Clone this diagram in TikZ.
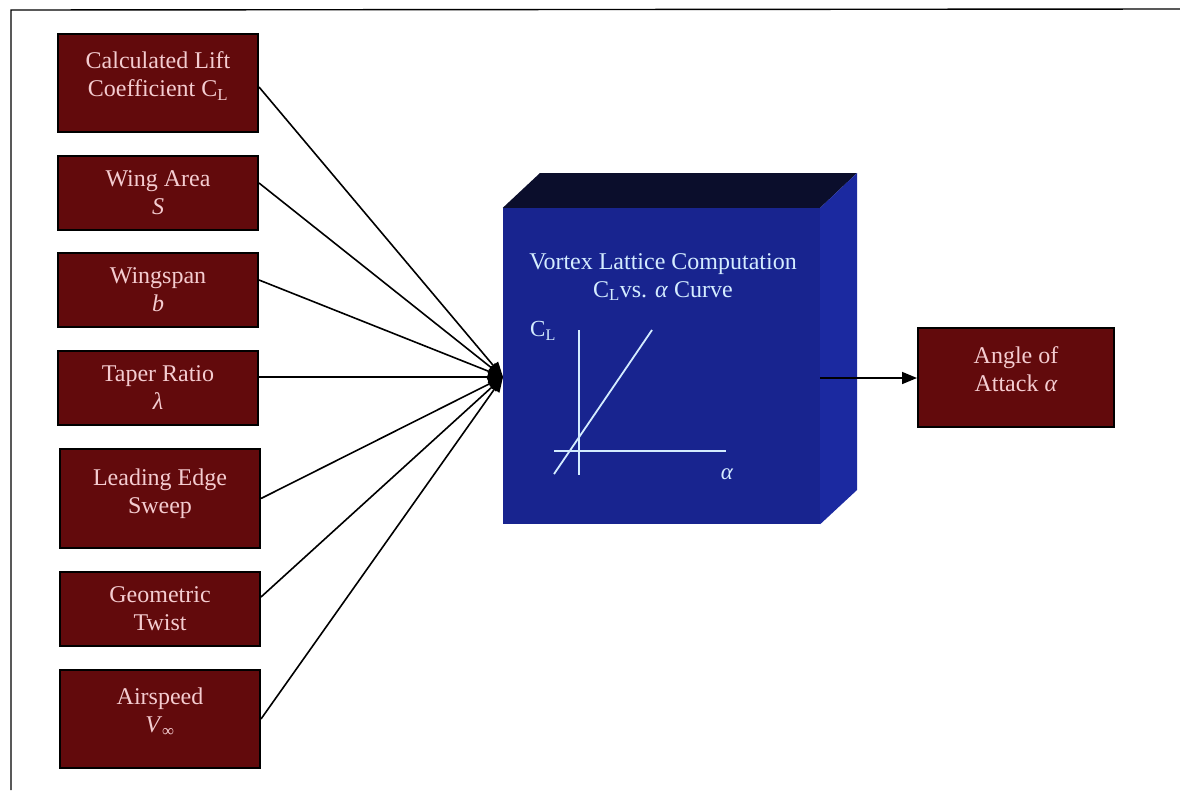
\documentclass[tikz,border=0pt]{standalone}
\usepackage{fontspec}
\setmainfont{Liberation Serif}
\usetikzlibrary{arrows.meta}
\definecolor{boxred}{HTML}{620A0C}
\definecolor{boxtext}{HTML}{F4CCD0}
\definecolor{frontblue}{HTML}{18248F}
\definecolor{sideblue}{HTML}{1B29A0}
\definecolor{topblue}{HTML}{0B0E2C}
\definecolor{cubetext}{HTML}{D4ECFF}
\newcommand{\upl}[2]{\raisebox{#1}[\height][\depth]{\begin{tabular}{@{}c@{}}#2\end{tabular}}}
\begin{document}
\begin{tikzpicture}[x=1pt,y=-1pt,
  inbox/.style={draw=black, line width=2pt, fill=boxred, text=boxtext,
    minimum width=200pt, align=center, inner sep=0pt,
    font=\fontsize{24}{28}\selectfont},
  link/.style={line width=1.6pt, -{Triangle[length=15pt,width=12pt]}},
  face/.style={draw=none}]
\useasboundingbox (0,0) rectangle (1180,790);
% frame
\coordinate (f0) at (11,790);
\coordinate (f1) at (11,10);
\coordinate (f2) at (1180,9);
\draw[line width=1.4pt] (f0) -- (f1) -- (f2);
% input boxes
\node[inbox, minimum height=98pt] (b1) at (158,83) {\upl{6pt}{Calculated Lift\\Coefficient C\textsubscript{L}}};
\node[inbox, minimum height=74pt] (b2) at (158,193) {Wing Area\\\textit{S}};
\node[inbox, minimum height=74pt] (b3) at (158,290) {Wingspan\\\textit{b}};
\node[inbox, minimum height=74pt] (b4) at (158,388) {Taper Ratio\\\textit{λ}};
\node[inbox, minimum height=99pt] (b5) at (160,498.5) {\upl{5pt}{Leading Edge\\Sweep}};
\node[inbox, minimum height=74pt] (b6) at (160,609) {Geometric\\Twist};
\node[inbox, minimum height=98pt] (b7) at (160,719) {\upl{6pt}{Airspeed\\\textit{V}\textsubscript{∞}}};
\node[inbox, minimum width=196pt, minimum height=99pt] (out) at (1016,377.5) {\upl{6pt}{Angle of\\Attack \textit{α}}};
% cube
\node[face, fill=frontblue, minimum width=317pt, minimum height=316pt, inner sep=0pt] (cube) at (661.5,366) {};
\coordinate (tbl) at (540,173);
\coordinate (tbr) at (857,173);
\coordinate (sbr) at (857,490);
\fill[topblue] (cube.north west) -- (tbl) -- (tbr) -- (cube.north east) -- cycle;
\fill[sideblue] (cube.north east) -- (tbr) -- (sbr) -- (cube.south east) -- cycle;
\node[text=cubetext, align=center, font=\fontsize{24}{28}\selectfont] (title) at (663,277)
  {Vortex Lattice Computation\\C\textsubscript{L}vs. \textit{α} Curve};
% small graph
\node[text=cubetext, font=\fontsize{23}{26}\selectfont] (cl) at (543,331) {C\textsubscript{L}};
\node[text=cubetext, font=\fontsize{23}{26}\selectfont] (al) at (727,474) {\textit{α}};
\coordinate (va) at (579,330);
\coordinate (vb) at (579,475);
\coordinate (ha) at (554,451);
\coordinate (hb) at (726,451);
\coordinate (da) at (554,474);
\coordinate (db) at (652,330);
\draw[cubetext, line width=1.8pt] (va) -- (vb);
\draw[cubetext, line width=1.8pt] (ha) -- (hb);
\draw[cubetext, line width=1.8pt] (da) -- (db);
% connectors
\coordinate (conv) at (503,377);
\draw[link] ([yshift=-4pt]b1.east) -- (conv);
\draw[link] ([yshift=10pt]b2.east) -- (conv);
\draw[link] ([yshift=10pt]b3.east) -- (conv);
\draw[link] ([yshift=11pt]b4.east) -- (conv);
\draw[link] (b5.east) -- (conv);
\draw[link] ([yshift=12pt]b6.east) -- (conv);
\draw[link] (b7.east) -- (conv);
\coordinate (cubeout) at (820,378);
\draw[link] (cubeout) -- (cubeout -| out.west);
\end{tikzpicture}
\end{document}
